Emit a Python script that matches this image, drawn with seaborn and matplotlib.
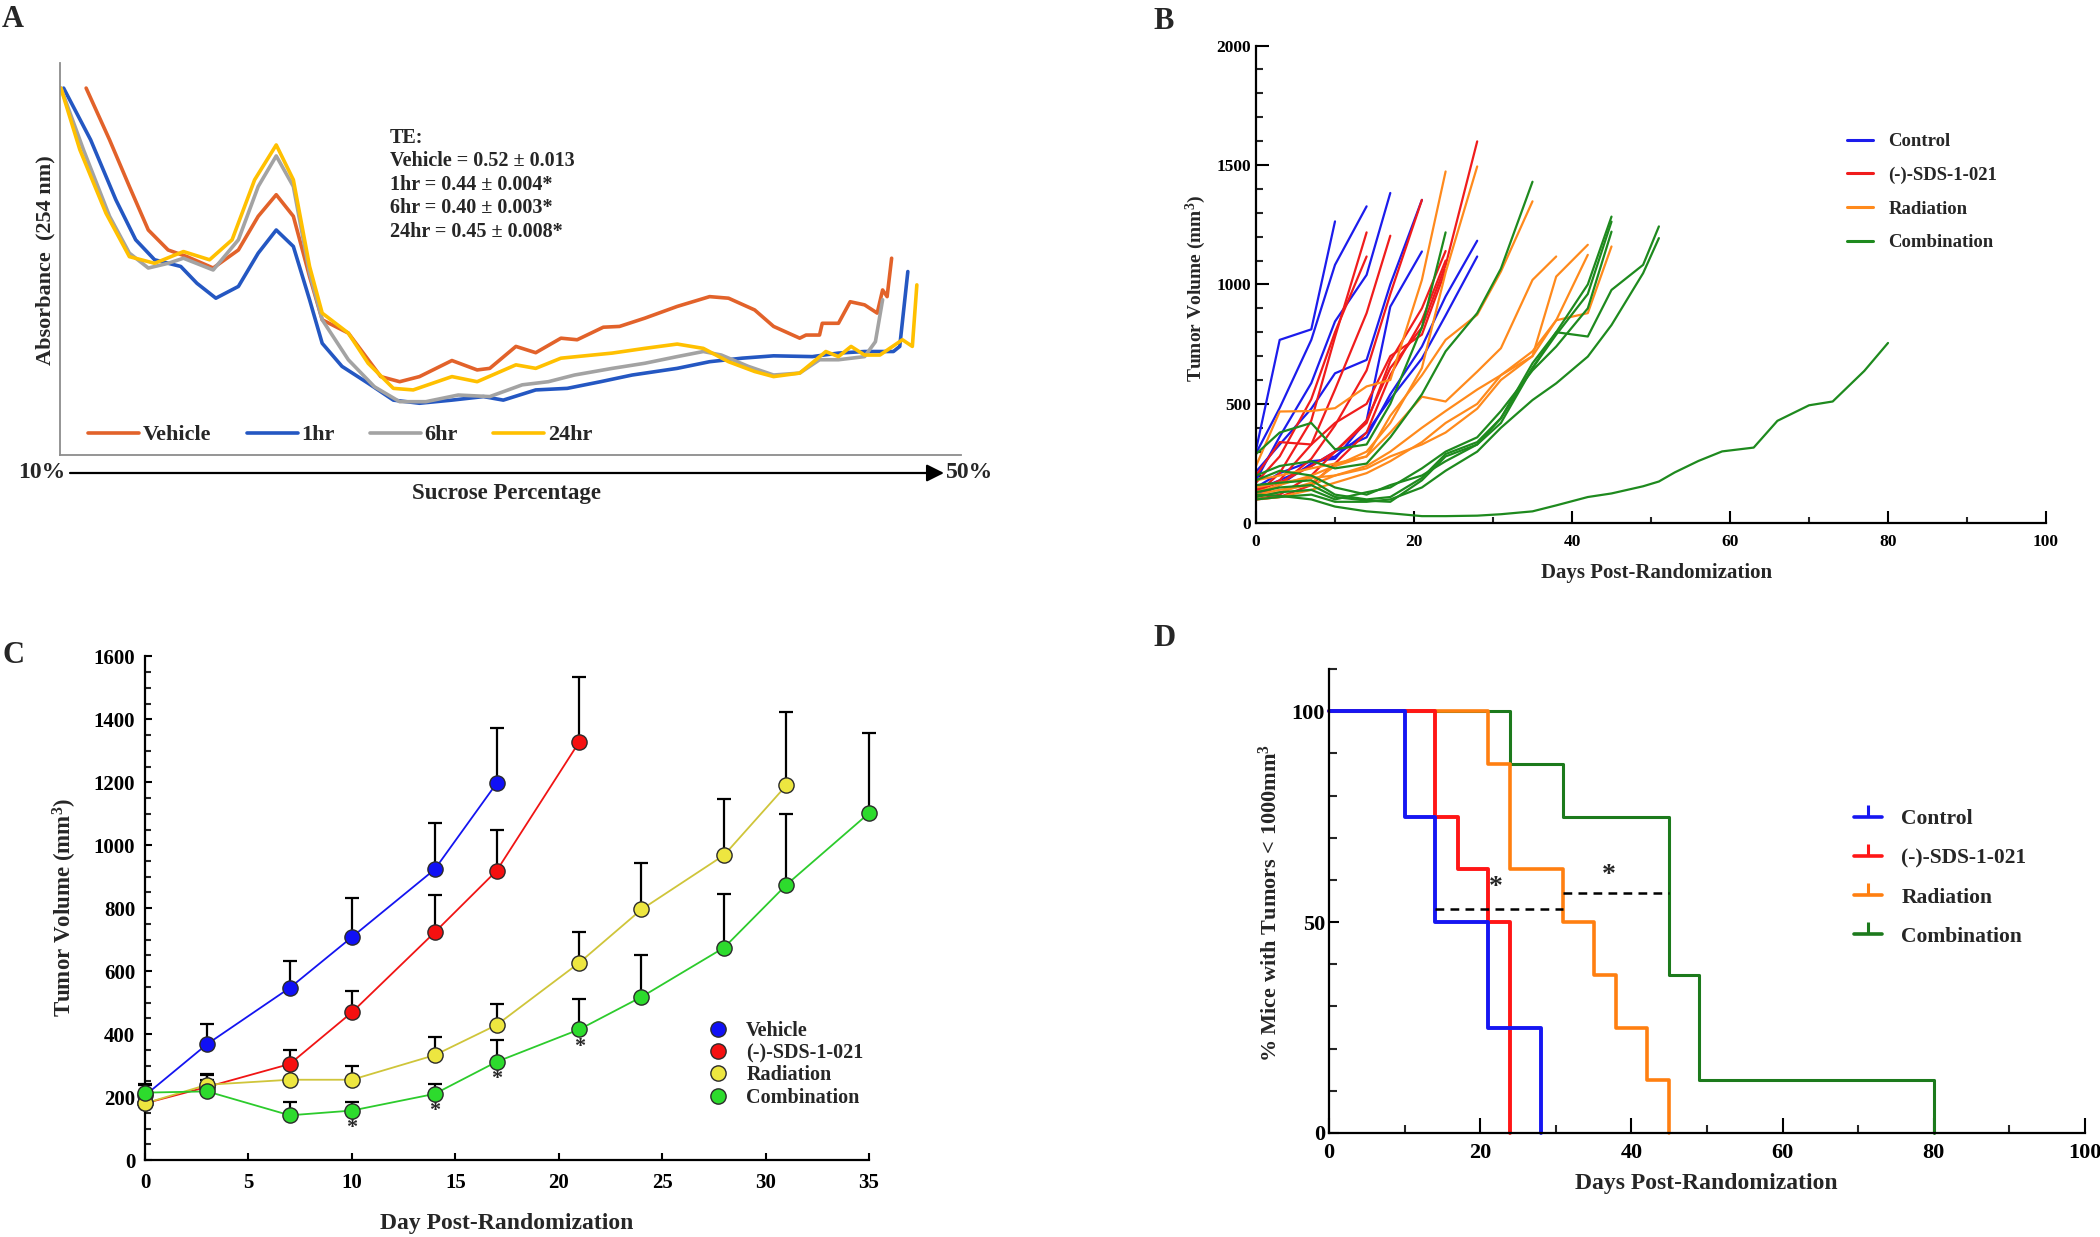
import numpy as np
import pandas as pd
import matplotlib
matplotlib.use('Agg')
import matplotlib.pyplot as plt
import seaborn as sns
from matplotlib.lines import Line2D
from matplotlib.ticker import MultipleLocator, FixedLocator

# ---------------- DATA ----------------
# Panel A: absorbance profiles (position along gradient 0-100, absorbance arbitrary 0-100)
a_vehicle_x = [2.9,5.5,7.7,9.8,12.0,14.1,17.0,19.8,22.0,24.0,25.9,27.7,29.1,32.0,33.4,35.6,37.7,39.9,43.5,46.3,47.7,50.6,52.8,55.6,57.4,60.3,62.1,64.9,68.5,72.1,74.2,77.1,79.2,82.1,82.8,84.3,84.6,86.4,87.7,89.3,90.7,91.3,91.8,92.3]
a_vehicle_y = [93.6,80.4,68.5,57.4,52.3,50.6,47.7,52.3,60.9,66.4,60.9,45.5,34.5,31.1,26.8,20.0,18.7,20.0,24.1,21.7,22.1,27.7,26.1,29.8,29.4,32.6,32.8,34.9,37.9,40.4,40.0,37.0,32.8,29.8,30.6,30.6,33.6,33.6,39.1,38.3,36.2,42.1,40.4,50.2]
a_1hr_x = [0.4,3.4,6.2,8.4,10.5,13.4,15.2,17.3,19.8,22.0,24.0,25.9,27.7,29.1,31.3,34.2,37.0,39.9,43.5,47.0,49.2,52.8,56.3,60.0,63.5,68.5,72.1,75.7,79.2,83.5,86.4,89.3,92.5,93.2,94.1]
a_1hr_y = [93.6,80.4,65.1,54.9,49.8,48.1,43.8,40.0,43.0,51.5,57.4,53.2,39.6,28.5,22.6,18.3,14.0,13.2,14.0,14.9,14.0,16.6,17.0,18.7,20.4,22.1,23.8,24.7,25.3,25.1,26.0,26.4,26.4,27.7,46.8]
a_6hr_x = [0.1,2.6,5.5,7.7,9.8,12.0,13.7,17.0,19.8,22.0,24.0,25.9,27.7,29.1,32.0,34.9,37.7,40.6,44.2,47.7,51.3,54.2,57.1,61.3,64.9,68.5,71.4,73.4,76.4,79.2,82.1,84.3,86.4,89.3,90.5,91.3]
a_6hr_y = [93.6,77.9,60.9,51.5,47.7,48.9,50.2,47.2,54.9,68.5,76.3,68.5,46.4,34.5,24.3,17.4,13.6,13.6,15.3,14.9,17.9,18.7,20.4,22.1,23.4,25.1,26.4,25.5,22.6,20.4,20.9,24.3,24.3,25.1,28.9,39.6]
a_24hr_x = [0.1,2.2,5.1,7.7,10.5,13.7,16.6,19.1,21.6,24.0,25.9,27.7,29.1,32.0,34.2,37.0,39.2,43.5,46.3,50.6,52.8,55.6,61.3,64.9,68.5,71.4,74.2,77.1,79.2,82.1,83.9,85.0,86.4,87.8,89.3,91.0,93.5,94.6,95.1]
a_24hr_y = [93.6,77.9,61.7,50.6,48.9,51.9,49.8,54.9,70.2,79.1,70.2,48.1,36.2,31.1,23.4,17.0,16.6,20.0,18.7,23.0,22.1,24.7,26.0,27.2,28.3,27.2,23.8,21.3,20.0,20.9,24.3,26.4,25.1,27.7,25.5,25.5,29.4,27.7,43.4]
a_names = ['Vehicle', '1hr', '6hr', '24hr']
a_te_lines = ['TE:', 'Vehicle = 0.52 \u00b1 0.013', '1hr = 0.44 \u00b1 0.004*',
              '6hr = 0.40 \u00b1 0.003*', '24hr = 0.45 \u00b1 0.008*']

# Panel B: individual tumour volumes (mm3) on measurement days
b_days = [0,3,7,10,14,17,21,24,28,31,35,38,42,45,49,51,53,56,59,63,66,70,73,77,80]
control_mice = [
    [307, 768, 812, 1264],
    [293, 483, 768, 1082, 1327],
    [180, 363, 587, 845, 1040, 1383],
    [216, 330, 480, 628, 684, 1000, 1354],
    [150, 210, 260, 270, 430, 907, 1138],
    [140, 180, 240, 300, 360, 540, 740, 950, 1183],
    [120, 160, 250, 280, 380, 520, 690, 870, 1117],
]
sds_mice = [
    [120, 210, 430, 780, 1218],
    [170, 280, 520, 800, 1117],
    [130, 180, 330, 560, 880, 1204],
    [110, 160, 270, 410, 640, 960, 1354],
    [100, 120, 200, 300, 420, 680, 900, 1140],
    [140, 170, 240, 300, 430, 650, 820, 1080, 1599],
    [100, 110, 160, 250, 380, 620, 850, 1100],
    [200, 340, 330, 420, 500, 700, 790, 1060],
]
radiation_mice = [
    [240, 468, 470, 482, 573, 600, 1019, 1473],
    [130, 160, 200, 240, 300, 420, 650, 1050, 1494],
    [180, 200, 230, 250, 280, 450, 620, 768, 873, 1054, 1348],
    [110, 130, 170, 240, 280, 380, 530, 510, 635, 733, 1019, 1117],
    [120, 140, 160, 200, 240, 300, 400, 470, 560, 620, 700, 1033, 1166],
    [100, 110, 140, 170, 210, 260, 340, 420, 500, 620, 720, 850, 1124],
    [150, 170, 190, 200, 230, 280, 330, 380, 480, 600, 700, 850, 880, 1159],
]
combination_mice = [
    [290, 380, 420, 310, 330, 500, 820, 1218],
    [200, 240, 260, 230, 250, 360, 540, 720, 880, 1066, 1430],
    [160, 170, 180, 120, 100, 110, 190, 290, 340, 440, 670, 800, 1000, 1284],
    [130, 150, 160, 110, 95, 90, 180, 280, 330, 420, 650, 790, 960, 1263],
    [110, 130, 140, 100, 130, 150, 230, 300, 360, 470, 640, 740, 900, 1221],
    [180, 220, 200, 150, 120, 160, 200, 260, 330, 440, 650, 800, 782, 977, 1082, 1243],
    [100, 110, 120, 90, 90, 100, 150, 220, 300, 400, 516, 586, 698, 830, 1047, 1194],
    [120, 115, 100, 70, 50, 42, 30, 30, 32, 38, 50, 75, 110, 125, 155, 175, 213, 261, 301, 317, 429, 494, 510, 638, 755],
]
b_groups = ['Control', '(-)-SDS-1-021', 'Radiation', 'Combination']

# Panel C: mean tumour volume +/- SEM
c_days = [0, 3, 7, 10, 14, 17, 21, 24, 28, 31, 35]
vehicle_mean = [205, 368, 547, 708, 923, 1197]
vehicle_sem = [35, 63, 85, 124, 149, 176]
sds_mean = [180, 232, 305, 469, 723, 919, 1329]
sds_sem = [25, 38, 44, 68, 120, 129, 207]
rad_mean = [180, 239, 255, 255, 333, 429, 627, 796, 969, 1190]
rad_sem = [20, 34, 43, 43, 58, 67, 98, 147, 179, 234]
comb_mean = [214, 218, 142, 157, 210, 312, 415, 518, 675, 874, 1102]
comb_sem = [25, 37, 43, 28, 33, 68, 98, 132, 170, 226, 255]
c_groups = ['Vehicle', '(-)-SDS-1-021', 'Radiation', 'Combination']
c_star_days = [10, 14, 17, 21]

# Panel D: Kaplan-Meier (% mice with tumours < 1000 mm3)
km_control_t = [0, 10, 14, 21, 28]
km_control_s = [100, 75, 50, 25, 0]
km_sds_t = [0, 14, 17, 21, 24]
km_sds_s = [100, 75, 62.5, 50, 0]
km_rad_t = [0, 21, 24, 31, 35, 38, 42, 45]
km_rad_s = [100, 87.5, 62.5, 50, 37.5, 25, 12.5, 0]
km_comb_t = [0, 24, 31, 45, 49, 80]
km_comb_s = [100, 87.5, 75, 37.5, 12.5, 0]
d_groups = ['Control', '(-)-SDS-1-021', 'Radiation', 'Combination']
d_sig_x = [[14, 31], [31, 45]]
d_sig_y = [53, 57]

# ---------------- STYLE ----------------
sns.set_style('ticks')
plt.rcParams['font.family'] = ['Liberation Serif', 'DejaVu Serif']
plt.rcParams['font.weight'] = 'bold'
plt.rcParams['axes.labelweight'] = 'bold'
plt.rcParams['mathtext.fontset'] = 'custom'
plt.rcParams['mathtext.rm'] = 'Liberation Serif:bold'
plt.rcParams['mathtext.bf'] = 'Liberation Serif:bold'
plt.rcParams['mathtext.default'] = 'rm'

W, H = 2100, 1237
fig = plt.figure(figsize=(21, 12.37), dpi=100)


def fx(x):
    return x / W


def fy(y):
    return 1 - y / H


def box(l, t, r, b):
    return [fx(l), fy(b), fx(r) - fx(l), fy(t) - fy(b)]


# ---------------- PANEL A ----------------
axA = fig.add_axes(box(60, 63, 961, 455))
a_colors = ['#E2622A', '#2457C2', '#A3A3A3', '#FFC000']
a_x = [a_vehicle_x, a_1hr_x, a_6hr_x, a_24hr_x]
a_y = [a_vehicle_y, a_1hr_y, a_6hr_y, a_24hr_y]
dfA = pd.concat([pd.DataFrame({'pos': x, 'abs': y, 'sample': n})
                 for x, y, n in zip(a_x, a_y, a_names)], ignore_index=True)
sns.lineplot(data=dfA, x='pos', y='abs', hue='sample', hue_order=a_names,
             palette=a_colors, estimator=None, sort=False, lw=2.6,
             legend=False, ax=axA)
axA.set_xlim(0, 100)
axA.set_ylim(0, 100)
axA.set_xticks([])
axA.set_yticks([])
axA.set_xlabel('')
axA.set_ylabel('')
for s in ['top', 'right']:
    axA.spines[s].set_visible(False)
for s in ['left', 'bottom']:
    axA.spines[s].set_color('#8C8C8C')
    axA.spines[s].set_linewidth(1.3)
hA = [Line2D([], [], color=c, lw=2.6) for c in a_colors]
fig.legend(hA, a_names, loc='center left', bbox_to_anchor=(fx(88), fy(435)),
           bbox_transform=fig.transFigure, ncol=4, frameon=False, fontsize=16,
           handlelength=2.3, handletextpad=0.15, columnspacing=1.6,
           borderpad=0, borderaxespad=0)
for i, line in enumerate(a_te_lines):
    fig.text(fx(390), fy(138 + 23.4 * i), line, fontsize=14.5, fontweight='bold',
             va='center', ha='left')
fig.text(fx(45), fy(260), 'Absorbance  (254 nm)', rotation=90, fontsize=16,
         fontweight='bold', va='center', ha='center')
fig.text(fx(506), fy(493), 'Sucrose Percentage', fontsize=16.5, fontweight='bold',
         va='center', ha='center')
fig.text(fx(42), fy(473), '10%', fontsize=17, fontweight='bold', va='center', ha='center')
fig.text(fx(970), fy(473), '50%', fontsize=17, fontweight='bold', va='center', ha='center')
axA.annotate('', xy=(fx(944), fy(473)), xytext=(fx(70), fy(473)),
             xycoords='figure fraction', textcoords='figure fraction',
             arrowprops=dict(arrowstyle='-|>', color='black', lw=1.6,
                             mutation_scale=26, shrinkA=0, shrinkB=0))
fig.text(fx(2), fy(27), 'A', fontsize=22, fontweight='bold', va='baseline', ha='left')

# ---------------- PANEL B ----------------
axB = fig.add_axes(box(1256, 45.6, 2046, 523.3))
b_colors = ['#1C1CEC', '#F01C1C', '#FF8A1C', '#1E8A1E']
rows = []
for g, mice in zip(b_groups, [control_mice, sds_mice, radiation_mice, combination_mice]):
    for k, vols in enumerate(mice):
        for d, v in zip(b_days, vols):
            rows.append({'group': g, 'mouse': f'{g}-{k}', 'day': d, 'vol': v})
dfB = pd.DataFrame(rows)
sns.lineplot(data=dfB, x='day', y='vol', hue='group', hue_order=b_groups,
             units='mouse', estimator=None, palette=b_colors, lw=1.6,
             legend=False, ax=axB)
axB.set_xlim(0, 100)
axB.set_ylim(0, 2000)
axB.set_xlabel('')
axB.set_ylabel('')
for s in ['top', 'right']:
    axB.spines[s].set_visible(False)
for s in ['left', 'bottom']:
    axB.spines[s].set_color('black')
    axB.spines[s].set_linewidth(1.6)
axB.xaxis.set_major_locator(MultipleLocator(20))
axB.xaxis.set_minor_locator(MultipleLocator(10))
axB.yaxis.set_major_locator(MultipleLocator(500))
axB.yaxis.set_minor_locator(MultipleLocator(100))
axB.tick_params(axis='x', which='major', direction='in', length=9, width=1.5,
                labelsize=12.5, pad=8, colors='black')
axB.tick_params(axis='x', which='minor', direction='in', length=4, width=1.5)
axB.tick_params(axis='y', which='major', direction='in', length=9, width=1.5,
                labelsize=12.5, pad=3.5, colors='black')
axB.tick_params(axis='y', which='minor', direction='in', length=5, width=1.5)
hB = [Line2D([], [], color=c, lw=2.2) for c in b_colors]
fig.legend(hB, b_groups, loc='upper left', bbox_to_anchor=(fx(1847), fy(133)),
           bbox_transform=fig.transFigure, frameon=False, fontsize=13.5,
           handlelength=1.4, handletextpad=0.8, labelspacing=0.88,
           borderpad=0, borderaxespad=0)
fig.text(fx(1196), fy(288), 'Tumor Volume (mm$^3$)', rotation=90, fontsize=14,
         fontweight='bold', va='center', ha='center')
fig.text(fx(1657), fy(573), 'Days Post-Randomization', fontsize=15,
         fontweight='bold', va='center', ha='center')
fig.text(fx(1153), fy(29), 'B', fontsize=22, fontweight='bold', va='baseline', ha='left')

# ---------------- PANEL C ----------------
axC = fig.add_axes(box(145, 656.4, 869, 1160))
c_line_colors = ['#1414F0', '#F01414', '#CFC53A', '#2CCB2C']
c_face_colors = ['#1010F5', '#F51010', '#EDE640', '#2DDB2D']
c_means = [vehicle_mean, sds_mean, rad_mean, comb_mean]
c_sems = [vehicle_sem, sds_sem, rad_sem, comb_sem]
for i, (m, e) in enumerate(zip(c_means, c_sems)):
    d = c_days[:len(m)]
    sns.lineplot(x=d, y=m, color=c_line_colors[i], lw=1.3, ax=axC, zorder=2 + i)
    eb = axC.errorbar(d, m, yerr=[np.zeros(len(e)), e], fmt='none', ecolor='black',
                      elinewidth=1.6, capsize=5, capthick=1.6, zorder=1.5)
    for art in eb.lines[1] + eb.lines[2]:
        art.set_clip_on(False)
for i, m in enumerate(c_means):
    d = c_days[:len(m)]
    sns.scatterplot(x=d, y=m, color=c_face_colors[i], s=120, edgecolor='#2a2a2a',
                    linewidth=1.0, ax=axC, zorder=10 + i, clip_on=False)
for d in c_star_days:
    yv = comb_mean[c_days.index(d)] - 55
    axC.text(d, yv, '*', fontsize=16, fontweight='bold', ha='center', va='center')
axC.set_xlim(0, 35)
axC.set_ylim(0, 1600)
axC.set_xlabel('')
axC.set_ylabel('')
for s in ['top', 'right']:
    axC.spines[s].set_visible(False)
for s in ['left', 'bottom']:
    axC.spines[s].set_color('black')
    axC.spines[s].set_linewidth(1.6)
axC.xaxis.set_major_locator(MultipleLocator(5))
axC.yaxis.set_major_locator(MultipleLocator(200))
axC.yaxis.set_minor_locator(MultipleLocator(50))
axC.tick_params(axis='both', which='major', direction='in', length=5, width=1.5,
                labelsize=15, colors='black')
axC.tick_params(axis='x', which='major', pad=9)
axC.tick_params(axis='y', which='major', pad=7)
axC.tick_params(axis='y', which='minor', direction='in', length=4, width=1.5)
hC = [Line2D([], [], ls='', marker='o', markersize=11, markerfacecolor=c,
             markeredgecolor='#2a2a2a', markeredgewidth=1.0) for c in c_face_colors]
fig.legend(hC, c_groups, loc='upper left', bbox_to_anchor=(fx(708), fy(1021)),
           bbox_transform=fig.transFigure, frameon=False, fontsize=14.5,
           handlelength=1.0, handletextpad=0.9, labelspacing=0.11,
           borderpad=0, borderaxespad=0)
fig.text(fx(65), fy(907), 'Tumor Volume (mm$^3$)', rotation=90, fontsize=16.5,
         fontweight='bold', va='center', ha='center')
fig.text(fx(507), fy(1223), 'Day Post-Randomization', fontsize=17,
         fontweight='bold', va='center', ha='center')
fig.text(fx(2), fy(663), 'C', fontsize=22, fontweight='bold', va='baseline', ha='left')

# ---------------- PANEL D ----------------
axD = fig.add_axes(box(1329, 669, 2085, 1133))
d_colors = ['#1616F2', '#FF1616', '#FF7F10', '#1C7A1C']
d_ts = [km_control_t, km_sds_t, km_rad_t, km_comb_t]
d_ss = [km_control_s, km_sds_s, km_rad_s, km_comb_s]
d_lws = [2.8, 2.8, 2.6, 2.2]
for i in [3, 2, 1, 0]:
    dfD = pd.DataFrame({'t': d_ts[i], 's': d_ss[i]})
    sns.lineplot(data=dfD, x='t', y='s', color=d_colors[i], lw=d_lws[i],
                 drawstyle='steps-post', estimator=None, sort=False, ax=axD,
                 clip_on=False)
for xs, yv in zip(d_sig_x, d_sig_y):
    sns.lineplot(x=xs, y=[yv, yv], color='black', lw=1.8, ax=axD,
                 linestyle=(0, (3.5, 2.5)))
    axD.text(np.mean(xs) - 0.5 + (0 if yv < 55 else -0.5), yv + (2.2 if yv < 55 else 1.0), '*',
             fontsize=20, fontweight='bold', ha='center', va='bottom')
axD.set_xlim(0, 100)
axD.set_ylim(0, 110)
axD.set_xlabel('')
axD.set_ylabel('')
for s in ['top', 'right']:
    axD.spines[s].set_visible(False)
for s in ['left', 'bottom']:
    axD.spines[s].set_color('black')
    axD.spines[s].set_linewidth(1.6)
axD.xaxis.set_major_locator(MultipleLocator(20))
axD.xaxis.set_minor_locator(MultipleLocator(10))
axD.yaxis.set_major_locator(FixedLocator([0, 50, 100]))
axD.yaxis.set_minor_locator(MultipleLocator(10))
axD.tick_params(axis='x', which='major', direction='in', length=11, width=1.5,
                labelsize=16, pad=7, colors='black')
axD.tick_params(axis='x', which='minor', direction='in', length=6, width=1.5)
axD.tick_params(axis='y', which='major', direction='in', length=7, width=1.5,
                labelsize=16, pad=3, colors='black')
axD.tick_params(axis='y', which='minor', direction='in', length=6, width=1.5)
hD = [Line2D([], [], color=c, lw=2.6, marker=2, markersize=9, markeredgewidth=2.2)
      for c in d_colors]
fig.legend(hD, d_groups, loc='upper left', bbox_to_anchor=(fx(1854), fy(809)),
           bbox_transform=fig.transFigure, frameon=False, fontsize=15.5,
           handlelength=1.3, handletextpad=0.9, labelspacing=0.89,
           borderpad=0, borderaxespad=0, numpoints=1)
fig.text(fx(1270), fy(903), '% Mice with Tumors < 1000mm$^3$', rotation=90,
         fontsize=16, fontweight='bold', va='center', ha='center')
fig.text(fx(1706), fy(1184), 'Days Post-Randomization', fontsize=17,
         fontweight='bold', va='center', ha='center')
fig.text(fx(1153), fy(646), 'D', fontsize=22, fontweight='bold', va='baseline', ha='left')

fig.savefig('out.png', dpi=100, facecolor='white')
